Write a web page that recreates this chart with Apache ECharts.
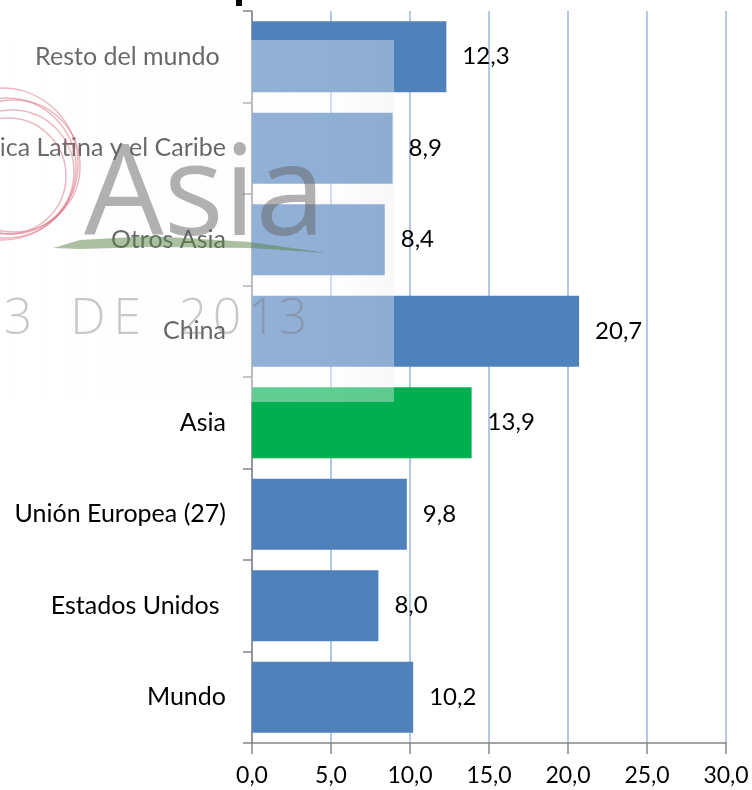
<!DOCTYPE html>
<html>
<head>
<meta charset="utf-8">
<script src="https://cdn.jsdelivr.net/npm/echarts@6/dist/echarts.min.js"></script>
<style>
  html, body { margin: 0; padding: 0; background: #fff; }
  #chart { width: 752px; height: 790px; }
</style>
</head>
<body>
<div id="chart"></div>
<script>
// bottom to top, as in the category axis
const categories = ["Mundo", "Estados Unidos ", "Unión Europea (27)", "Asia", "China", "Otros Asia", "América Latina y el Caribe", "Resto del mundo "];
const values = [10.2, 8.0, 9.8, 13.9, 20.7, 8.4, 8.9, 12.3];
const highlight = "Asia";
const xTicks = [0, 5, 10, 15, 20, 25, 30];

const BLUE = "#4F81BD";
const GREEN = "#00B050";
const FONT = "Lato";

function comma(v) {
    return Number(v).toFixed(1).replace(".", ",");
}

const chart = echarts.init(document.getElementById("chart"), null, { renderer: "canvas" });

// watermark pieces drawn on top of the chart
const circles = [];
[[6, 168, 70], [12, 172, 62], [2, 164, 76], [8, 176, 58], [14, 166, 66]].forEach(c => {
    circles.push({
        type: "circle",
        z: 102,
        shape: { cx: c[0], cy: c[1], r: c[2] },
        style: { fill: null, stroke: "rgba(215,95,115,0.45)", lineWidth: 1.5 }
    });
});
const dateChars = [["2", -16], ["3", 18], ["D", 88], ["E", 127], ["2", 193], ["0", 227], ["1", 262], ["3", 293]];
const dateTexts = dateChars.map(d => ({
    type: "text",
    z: 102,
    x: d[1],
    y: 320,
    style: {
        text: d[0], font: "300 50px 'Open Sans', sans-serif",
        fill: "rgba(120,120,120,0.4)", align: "center", verticalAlign: "middle"
    }
}));

chart.setOption({
    animation: false,
    grid: { left: 252, right: 26, top: 11, bottom: 47, containLabel: false, outerBoundsMode: "none" },
    xAxis: {
        type: "value",
        min: xTicks[0],
        max: xTicks[xTicks.length - 1],
        interval: xTicks[1] - xTicks[0],
        axisLine: { show: true, lineStyle: { color: "#868686", width: 1.5 } },
        axisTick: { show: true, length: 11, lineStyle: { color: "#868686", width: 1.5 } },
        axisLabel: {
            margin: 21,
            color: "#000",
            fontFamily: FONT,
            fontSize: 23,
            formatter: v => comma(v)
        },
        splitLine: { show: true, lineStyle: { color: "#B4C7E7", width: 2 } }
    },
    yAxis: {
        type: "category",
        data: categories,
        axisLine: { show: true, lineStyle: { color: "#868686", width: 1.5 } },
        axisTick: { show: true, length: 9, alignWithLabel: false, lineStyle: { color: "#868686", width: 1.5 } },
        axisLabel: { margin: 26, color: "#000", fontFamily: FONT, fontSize: 25 }
    },
    series: [{
        type: "bar",
        barCategoryGap: "22.5%",
        data: values.map((v, i) => ({
            value: v,
            itemStyle: { color: categories[i] === highlight ? GREEN : BLUE }
        })),
        label: {
            show: true,
            position: "right",
            distance: 16,
            color: "#000",
            fontFamily: FONT,
            fontSize: 24,
            formatter: p => comma(p.value)
        }
    }],
    graphic: [
        {
            type: "rect",
            z: 100,
            shape: { x: 0, y: 40, width: 394, height: 362 },
            style: {
                fill: new echarts.graphic.LinearGradient(0, 0, 1, 0, [
                    { offset: 0, color: "rgba(255,255,255,0.42)" },
                    { offset: 0.85, color: "rgba(250,250,250,0.38)" },
                    { offset: 1, color: "rgba(238,238,238,0.4)" }
                ])
            }
        },
        ...circles,
        {
            type: "polygon",
            z: 102,
            shape: { points: [[53, 248], [80, 240], [150, 236], [250, 242], [327, 253], [250, 248], [150, 247], [80, 249]] },
            style: { fill: "rgba(90,130,70,0.5)" }
        },
        {
            type: "text",
            z: 103,
            x: 84,
            y: 262,
            style: {
                text: "Asia", font: "400 126px 'Open Sans', sans-serif",
                fill: "rgba(100,100,100,0.5)", verticalAlign: "bottom"
            }
        },
        ...dateTexts,
        {
            type: "rect",
            z: 104,
            shape: { x: 236, y: 0, width: 6, height: 6 },
            style: { fill: "#000" }
        }
    ]
});
</script>
</body>
</html>
